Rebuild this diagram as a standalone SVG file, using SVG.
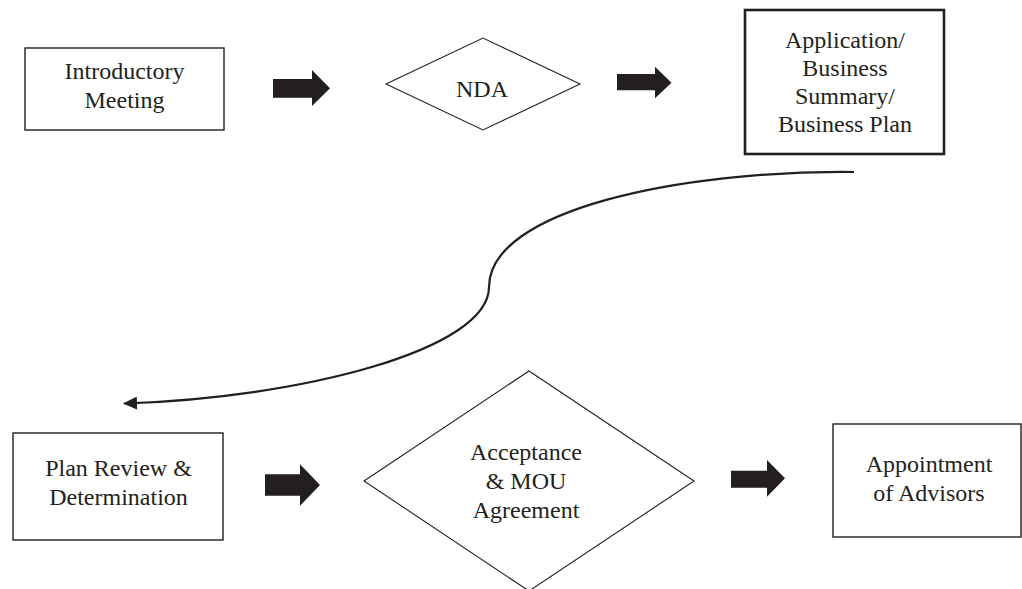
<svg xmlns="http://www.w3.org/2000/svg" width="1022" height="589" viewBox="0 0 1022 589">
  <style>
    .box { fill: #ffffff; stroke: #231f20; stroke-width: 1.4; }
    .box-bold { fill: #ffffff; stroke: #231f20; stroke-width: 2.6; }
    .diamond { fill: #ffffff; stroke: #231f20; stroke-width: 1.1; }
    .lbl { font-family: "Liberation Serif", "Times New Roman", serif; font-size: 24px; fill: #231f20; text-anchor: middle; }
    .block { fill: #231f20; stroke: none; }
    .curve { fill: none; stroke: #231f20; stroke-width: 2.2; }
  </style>
  <defs>
    <marker id="head" viewBox="0 0 14 13" refX="13" refY="6.5" markerWidth="14" markerHeight="13" markerUnits="userSpaceOnUse" orient="auto">
      <path d="M0,0 L14,6.5 L0,13 Z" fill="#231f20"/>
    </marker>
  </defs>
  <rect width="1022" height="589" fill="#ffffff"/>

  <g id="node-intro">
    <rect class="box" x="25" y="48" width="199" height="82"/>
    <text class="lbl" x="124.5" y="79">Introductory</text>
    <text class="lbl" x="124.5" y="107.5">Meeting</text>
  </g>

  <g id="node-nda">
    <polygon class="diamond" points="386,84 483,38 580,84 483,130"/>
    <text class="lbl" x="482" y="96.5">NDA</text>
  </g>

  <g id="node-application">
    <rect class="box-bold" x="745" y="10" width="199" height="144"/>
    <text class="lbl" x="845" y="48">Application/</text>
    <text class="lbl" x="845" y="76">Business</text>
    <text class="lbl" x="845" y="104">Summary/</text>
    <text class="lbl" x="845" y="132">Business Plan</text>
  </g>

  <g id="node-plan-review">
    <rect class="box" x="13" y="433" width="210" height="107"/>
    <text class="lbl" x="118.5" y="476">Plan Review &amp;</text>
    <text class="lbl" x="118.5" y="504.5">Determination</text>
  </g>

  <g id="node-acceptance">
    <polygon class="diamond" points="364,481 529,371 694,481 529,591"/>
    <text class="lbl" x="526" y="460">Acceptance</text>
    <text class="lbl" x="526" y="489">&amp; MOU</text>
    <text class="lbl" x="526" y="518">Agreement</text>
  </g>

  <g id="node-advisors">
    <rect class="box" x="833" y="424" width="188" height="113"/>
    <text class="lbl" x="929" y="472">Appointment</text>
    <text class="lbl" x="929" y="501">of Advisors</text>
  </g>

  <g id="connectors">
    <polygon class="block" points="273,79 312,79 312,70 330,88.3 312,106 312,97.7 273,97.7"/>
    <polygon class="block" points="617,74 655,74 655,66.7 671.5,82.7 655,98.3 655,90.3 617,90.3"/>
    <polygon class="block" points="265,474.3 300,474.3 300,464.3 320,485 300,505.7 300,495.7 265,495.7"/>
    <polygon class="block" points="731,470.7 767,470.7 767,460 785,478.3 767,496.7 767,487.7 731,487.7"/>
    <path class="curve" d="M854,172 C680,170 489,210 489,287 C489,350 300,398 124,403.5" marker-end="url(#head)"/>
  </g>
</svg>
